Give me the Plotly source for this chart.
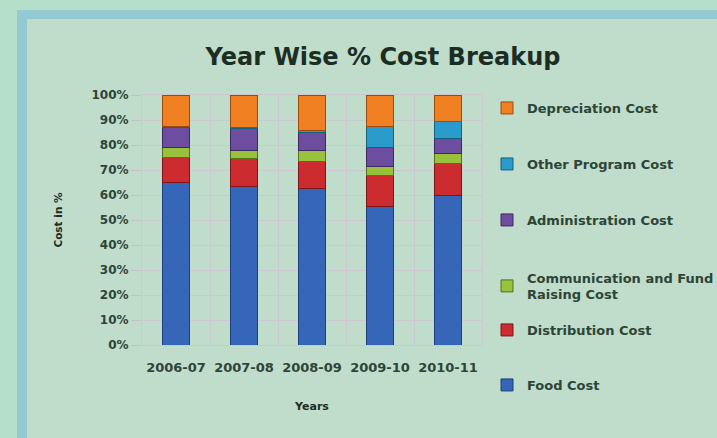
import plotly.graph_objects as go

# Share of total cost (%) per financial year
years = ["2006-07", "2007-08", "2008-09", "2009-10", "2010-11"]
food_cost = [65.0, 63.5, 62.5, 55.5, 60.0]
distribution_cost = [10.0, 11.0, 11.0, 12.5, 12.5]
communication_cost = [4.0, 3.5, 4.5, 3.5, 4.0]
administration_cost = [8.0, 8.5, 7.0, 7.5, 6.0]
other_program_cost = [0.5, 0.5, 1.0, 8.5, 7.0]
depreciation_cost = [12.5, 13.0, 14.0, 12.5, 10.5]

y_ticks = list(range(0, 101, 10))
y_tick_text = [f"{v}%" for v in y_ticks]

series = [
    ("Food Cost", food_cost, "#3566b8", "#1f3f7a"),
    ("Distribution Cost", distribution_cost, "#cc2b2f", "#7d1518"),
    ("Communication and Fund<br>Raising Cost", communication_cost, "#98c23c", "#55701c"),
    ("Administration Cost", administration_cost, "#6d4d9f", "#3e2a60"),
    ("Other Program Cost", other_program_cost, "#2a9bcb", "#15607f"),
    ("Depreciation Cost", depreciation_cost, "#f07f22", "#9a4c0e"),
]

W, H = 717, 438
L, R, T, B = 142, 482, 95, 345

def px_x(p):
    return (p - L) / (R - L)

def px_y(p):
    return (B - p) / (B - T)

# vertical pixel centre of each legend entry
legend_rows = [385, 330, 286, 220, 164, 108]

TXT = "#2c4537"
fig = go.Figure()
for i, (name, vals, color, edge) in enumerate(series):
    fig.add_trace(go.Bar(
        x=years, y=vals, name=name,
        marker=dict(color=color, line=dict(color=edge, width=1)),
        legend=f"legend{i + 2}", showlegend=True,
    ))

legend_font = dict(family="DejaVu Sans", size=13, color=TXT, weight="bold")
legends = {}
for i, row in enumerate(legend_rows):
    legends[f"legend{i + 2}"] = dict(
        x=px_x(487), y=px_y(row), xanchor="left", yanchor="middle",
        bgcolor="rgba(0,0,0,0)", font=legend_font, itemclick=False,
        itemwidth=30,
    )

fig.update_layout(
    width=W, height=H,
    barmode="stack", bargap=0.59, showlegend=True,
    paper_bgcolor="#b5dfc8", plot_bgcolor="#ffffff",
    margin=dict(l=L, r=W - R, t=T, b=H - B, autoexpand=False),
    title=dict(
        text="Year Wise % Cost Breakup", x=px_x(383), xanchor="center",
        xref="paper", y=1 - 57 / H, yanchor="middle",
        font=dict(family="DejaVu Sans", size=24, color="#1c2e24", weight="bold"),
    ),
    xaxis=dict(
        type="category", tickson="boundaries", showgrid=True,
        gridcolor="#cdc7d3", gridwidth=1, ticks="", tickangle=0,
        ticklabelstandoff=10,
        tickfont=dict(family="DejaVu Sans", size=13, color=TXT, weight="bold"),
        title=dict(text="Years", standoff=28,
                   font=dict(family="DejaVu Sans", size=11, color="#1c2e24", weight="bold")),
        showline=True, linecolor="#cdc7d3", mirror=True,
    ),
    yaxis=dict(
        range=[0, 100], tickvals=y_ticks, ticktext=y_tick_text,
        showgrid=True, gridcolor="#cdc7d3", gridwidth=1,
        ticks="outside", ticklen=10, tickcolor="#c4c0c8",
        tickfont=dict(family="DejaVu Sans", size=12, color=TXT, weight="bold"),
        title=dict(text="Cost in %", standoff=26,
                   font=dict(family="DejaVu Sans", size=10.5, color="#1c2e24", weight="bold")),
        zeroline=False, showline=True, linecolor="#cdc7d3", mirror=True,
    ),
    shapes=[
        dict(type="rect", xref="paper", yref="paper", layer="below",
             x0=px_x(17), x1=px_x(W + 5), y0=px_y(10), y1=px_y(H + 5),
             fillcolor="#93cad2", line=dict(width=0)),
        dict(type="rect", xref="paper", yref="paper", layer="below",
             x0=px_x(27), x1=px_x(W + 5), y0=px_y(19), y1=px_y(H + 5),
             fillcolor="#c0dccb", line=dict(width=0)),
    ],
    **legends,
)

fig.write_html("out.html")
